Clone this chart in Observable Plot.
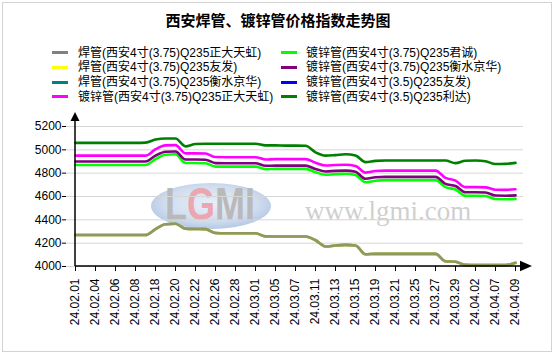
<!DOCTYPE html>
<html><head><meta charset="utf-8">
<script src="https://cdn.jsdelivr.net/npm/d3@7"></script>
<script src="https://cdn.jsdelivr.net/npm/@observablehq/plot@0.6"></script>
<style>
body{margin:0;background:#fff;}
#wrap{position:relative;width:556px;height:356px;overflow:hidden;font-family:"Liberation Sans","Noto Sans CJK SC",Arial,sans-serif;}
#frame{position:absolute;left:2px;top:2px;width:548px;height:348px;border:1px solid #d3d3d3;}
#title{position:absolute;left:0;width:556px;top:11px;text-align:center;font-size:15px;font-weight:bold;line-height:20px;color:#000;}
.sw{position:absolute;width:16px;height:3px;}
.lt{position:absolute;font-size:12px;line-height:16px;color:#000;white-space:nowrap;}
#chart{position:absolute;left:0;top:100px;}
</style></head>
<body>
<div id="wrap">
  <div id="frame"></div>
  <div id="title">西安焊管、镀锌管价格指数走势图</div>
  <div id="legend"></div>
  <svg id="logo" style="position:absolute;left:146px;top:168px;overflow:visible" width="130" height="70">
    <defs><radialGradient id="lg" cx="50%" cy="45%" r="55%">
      <stop offset="0%" stop-color="#e8eff9"/><stop offset="70%" stop-color="#d0ddef"/><stop offset="100%" stop-color="#b5c8e4"/></radialGradient></defs>
    <ellipse cx="65" cy="38" rx="60" ry="23" fill="url(#lg)"/>
    <g transform="translate(19,52) scale(1,1.3)">
      <text x="0" y="0" font-family="Liberation Sans" font-weight="bold" font-size="36" fill="#b9b9b9">L<tspan fill="#eba6b0">G</tspan>MI</text>
    </g>
  </svg>
  <div style="position:absolute;left:305px;top:196px;font-family:'Liberation Serif',serif;font-size:27px;line-height:30px;color:#cfcfcf;">www.lgmi.com</div>
  <div id="chart"></div>
</div>
<script>
const dates = ["24.02.01","24.02.02","24.02.04","24.02.05","24.02.06","24.02.07","24.02.08","24.02.09",
 "24.02.18","24.02.19","24.02.20","24.02.21","24.02.22","24.02.23","24.02.26","24.02.27","24.02.28","24.02.29",
 "24.03.01","24.03.04","24.03.05","24.03.06","24.03.07","24.03.08","24.03.11","24.03.12","24.03.13","24.03.14",
 "24.03.15","24.03.18","24.03.19","24.03.20","24.03.21","24.03.22","24.03.25","24.03.26","24.03.27","24.03.28",
 "24.03.29","24.04.01","24.04.02","24.04.03","24.04.07","24.04.08","24.04.09"];
const tickLabels = ["24.02.01","24.02.04","24.02.06","24.02.08","24.02.18","24.02.20","24.02.22","24.02.26",
 "24.02.28","24.03.01","24.03.05","24.03.07","24.03.11","24.03.13","24.03.15","24.03.19","24.03.21","24.03.25",
 "24.03.27","24.03.29","24.04.02","24.04.07","24.04.09"];
const yTicks = [4000,4200,4400,4600,4800,5000,5200];

// 焊管(西安4寸(3.75)Q235正大天虹)
const weldZD = [4270,4270,4270,4270,4270,4270,4270,4270,4320,4362,4366,4325,4322,4320,4287,4285,4285,4285,4285,
 4258,4257,4257,4257,4257,4225,4172,4180,4185,4180,4105,4108,4108,4108,4108,4108,4108,4108,4045,4040,4014,4012,4012,4012,4012,4032];
// 焊管(西安4寸(3.75)Q235友发)
const weldYF = [4270,4270,4270,4270,4270,4270,4270,4270,4320,4362,4366,4325,4322,4320,4287,4285,4285,4285,4285,
 4258,4257,4257,4257,4257,4225,4172,4180,4185,4180,4105,4108,4108,4108,4108,4108,4108,4108,4045,4040,4014,4012,4012,4012,4012,4032];
// 焊管(西安4寸(3.75)Q235衡水京华)
const weldHS = [4270,4270,4270,4270,4270,4270,4270,4270,4320,4362,4366,4325,4322,4320,4287,4285,4285,4285,4285,
 4258,4257,4257,4257,4257,4225,4172,4180,4185,4180,4105,4108,4108,4108,4108,4108,4108,4108,4045,4040,4014,4012,4012,4012,4012,4032];
// 镀锌管(西安4寸(3.75)Q235正大天虹)
const galvZD = [4950,4950,4950,4950,4950,4950,4950,4950,5005,5038,5040,4970,4970,4968,4938,4937,4937,4937,4937,
 4917,4920,4920,4920,4920,4890,4866,4870,4872,4862,4805,4818,4822,4822,4822,4822,4822,4822,4760,4736,4680,4680,4678,4658,4657,4662];
// 镀锌管(西安4寸(3.75)Q235君诚)
const galvJC = [4870,4870,4870,4870,4870,4870,4870,4870,4920,4958,4962,4887,4887,4885,4856,4856,4856,4856,4856,
 4835,4837,4837,4837,4837,4808,4786,4792,4795,4785,4722,4735,4740,4740,4740,4740,4740,4740,4680,4660,4606,4606,4604,4578,4577,4580];
// 镀锌管(西安4寸(3.75)Q235衡水京华)
const galvHS = [4900,4900,4900,4900,4900,4900,4900,4900,4950,4983,4986,4917,4917,4915,4886,4885,4885,4885,4885,
 4863,4865,4865,4865,4865,4835,4814,4820,4822,4812,4752,4765,4768,4768,4768,4768,4768,4768,4708,4690,4636,4636,4634,4608,4607,4610];
// 镀锌管(西安4寸(3.5)Q235友发) — no line visible
const galv35YF = [];
// 镀锌管(西安4寸(3.5)Q235利达)
const galv35LD = [5060,5060,5060,5060,5060,5060,5060,5062,5088,5097,5097,5030,5050,5052,5052,5052,5052,5052,5052,
 5038,5038,5036,5036,5035,4978,4950,4955,4962,4952,4895,4905,4908,4908,4908,4908,4908,4908,4908,4886,4907,4908,4902,4878,4880,4888];

const seriesNames = ["焊管(西安4寸(3.75)Q235正大天虹)","焊管(西安4寸(3.75)Q235友发)","焊管(西安4寸(3.75)Q235衡水京华)",
 "镀锌管(西安4寸(3.75)Q235正大天虹)","镀锌管(西安4寸(3.75)Q235君诚)","镀锌管(西安4寸(3.75)Q235衡水京华)",
 "镀锌管(西安4寸(3.5)Q235友发)","镀锌管(西安4寸(3.5)Q235利达)"];
const seriesColors = ["#808080","#ffff00","#008080","#ff00ff","#00ff00","#800080","#0000ff","#008000"];
const seriesValues = [weldZD, weldYF, weldHS, galvZD, galvJC, galvHS, galv35YF, galv35LD];

// legend (two columns, four rows)
const leg = document.getElementById("legend");
const legendOrder = [[0,4],[1,5],[2,6],[3,7]];
legendOrder.forEach((row, r) => {
  row.forEach((si, c) => {
    const cy = 52.5 + r * 14.8;
    const sx = c === 0 ? 52 : 281, tx = c === 0 ? 78 : 306;
    const sw = document.createElement("div");
    sw.className = "sw"; sw.style.left = sx + "px"; sw.style.top = (cy - 1.5) + "px"; sw.style.background = seriesColors[si];
    const t = document.createElement("div");
    t.className = "lt"; t.style.left = tx + "px"; t.style.top = (cy - 8) + "px"; t.textContent = seriesNames[si];
    leg.appendChild(sw); leg.appendChild(t);
  });
});

const rowsOf = i => seriesValues[i].map((v, k) => ({date: dates[k], value: v}));
const lineMark = (i, extra = {}) => Plot.line(rowsOf(i), {x: "date", y: "value", stroke: seriesColors[i], strokeWidth: 2.6, curve: "monotone-x", ...extra});

const chart = Plot.plot({
  width: 556, height: 250,
  marginLeft: 66, marginRight: 33, marginTop: 26, marginBottom: 84,
  style: {fontFamily: "'Liberation Sans', Arial, sans-serif", fontSize: "12px", background: "transparent", color: "#000", overflow: "visible"},
  x: {type: "point", domain: dates, padding: 0},
  y: {domain: [4000, 5200]},
  marks: [
    Plot.gridY(yTicks, {stroke: "#d6d6d6", strokeOpacity: 1}),
    Plot.axisY(yTicks, {tickSize: 4, tickPadding: 1, label: null, fontSize: 12, tickFormat: d => String(d)}),
    Plot.axisX(tickLabels, {tickSize: 5, tickPadding: 7, tickRotate: -90, label: null, fontSize: 12}),
    lineMark(2), lineMark(1), lineMark(0, {stroke: "#7a7a7a", strokeOpacity: 0.8}),
    lineMark(4), lineMark(5), lineMark(6), lineMark(3), lineMark(7)
  ]
});
document.getElementById("chart").appendChild(chart);

// axis lines with arrow heads
const xs = chart.scale("x"), ys = chart.scale("y");
const x0 = xs.apply(dates[0]), xEnd = xs.apply(dates[dates.length - 1]);
const y0 = ys.apply(yTicks[0]), yTop = ys.apply(yTicks[yTicks.length - 1]);
const g = d3.select(chart).append("g");
g.append("line").attr("x1", x0).attr("x2", xEnd + 8).attr("y1", y0).attr("y2", y0).attr("stroke", "#000").attr("stroke-width", 1.5);
g.append("path").attr("d", `M${xEnd + 5},${y0 - 5.3}L${xEnd + 17},${y0}L${xEnd + 5},${y0 + 5.3}Z`).attr("fill", "#000");
g.append("line").attr("x1", x0).attr("x2", x0).attr("y1", y0).attr("y2", yTop - 7).attr("stroke", "#000").attr("stroke-width", 1.5);
g.append("path").attr("d", `M${x0 - 4.5},${yTop - 5}L${x0},${yTop - 14}L${x0 + 4.5},${yTop - 5}Z`).attr("fill", "#000");
</script>
</body></html>
